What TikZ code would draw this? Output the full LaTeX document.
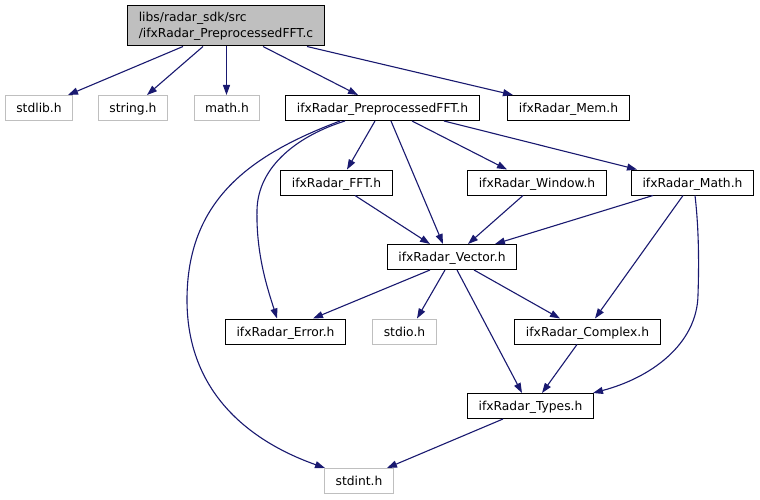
\documentclass[tikz,border=0pt]{standalone}
\usepackage{fontspec}
\setmainfont{DejaVu Sans}
\usetikzlibrary{arrows.meta}
\definecolor{edgeblue}{RGB}{25,25,112}
\definecolor{grayfill}{RGB}{191,191,191}
\definecolor{grayline}{RGB}{191,191,191}
\begin{document}
\begin{tikzpicture}[x=1pt,y=-1pt,
  box/.style={draw=black,line width=1pt,fill=white,inner xsep=11pt,inner ysep=0pt,
    minimum height=25pt,text height=9pt,text depth=0pt,font=\fontsize{12.3}{15}\selectfont},
  extbox/.style={box,draw=grayline},
  rootbox/.style={draw=black,line width=1pt,fill=grayfill,inner xsep=11pt,inner ysep=0pt,
    minimum height=40pt,align=left,font=\fontsize{12.3}{16}\selectfont},
  dep/.style={draw=edgeblue,line width=1.1pt,-{Triangle[length=10pt,width=7pt]}}]
\useasboundingbox[fill=white] (0,0) rectangle (760,500);

\node[rootbox] (root) at (226,26) {libs/radar\_sdk/src\\/ifxRadar\_PreprocessedFFT.c};
\node[extbox] (stdlib) at (39,108) {stdlib.h};
\node[extbox] (string) at (133,108) {string.h};
\node[extbox] (math) at (227,108) {math.h};
\node[box] (pre) at (382.5,108) {ifxRadar\_PreprocessedFFT.h};
\node[box] (mem) at (568.5,108) {ifxRadar\_Mem.h};
\node[box] (fft) at (336.5,182.5) {ifxRadar\_FFT.h};
\node[box] (win) at (537,182.5) {ifxRadar\_Window.h};
\node[box] (mth) at (692.5,182.5) {ifxRadar\_Math.h};
\node[box] (vec) at (452,257) {ifxRadar\_Vector.h};
\node[box] (err) at (285.5,331.5) {ifxRadar\_Error.h};
\node[extbox] (stdio) at (404.5,331.5) {stdio.h};
\node[box] (cpx) at (587.5,331.5) {ifxRadar\_Complex.h};
\node[box] (typ) at (530.5,406) {ifxRadar\_Types.h};
\node[extbox] (stdint) at (359,481) {stdint.h};

\draw[dep] ([xshift=-43pt]root.south) -- ([xshift=29pt]stdlib.north);
\draw[dep] ([xshift=-23pt]root.south) -- ([xshift=14pt]string.north);
\draw[dep] ([xshift=0.5pt]root.south) -- ([xshift=-0.5pt]math.north);
\draw[dep] ([xshift=37pt]root.south) -- ([xshift=-24.5pt]pre.north);
\draw[dep] ([xshift=81pt]root.south) -- ([xshift=-55.5pt]mem.north);

\draw[dep] ([xshift=-7.5pt]pre.south) -- ([xshift=10.5pt]fft.north);
\draw[dep] ([xshift=8.5pt]pre.south) -- ([xshift=-9pt]vec.north);
\draw[dep] ([xshift=29.5pt]pre.south) -- ([xshift=-30pt]win.north);
\draw[dep] ([xshift=61.5pt]pre.south) -- ([xshift=-55.5pt]mth.north);
\draw[dep] ([xshift=-37.5pt]pre.south) .. controls (300,135) and (258,165) .. (257,210)
  .. controls (256,255) and (268,290) .. ([xshift=-8.5pt]err.north);
\draw[dep] ([xshift=-42.5pt]pre.south) .. controls (250,155) and (187,200) .. (187,300)
  .. controls (187,400) and (260,445) .. ([xshift=-34pt]stdint.north);

\draw[dep] ([xshift=18.5pt]fft.south) -- ([xshift=-22pt]vec.north);
\draw[dep] ([xshift=-14pt]win.south) -- ([xshift=16pt]vec.north);
\draw[dep] ([xshift=-39.5pt]mth.south) -- ([xshift=43pt]vec.north);
\draw[dep] ([xshift=-9.5pt]mth.south) -- ([xshift=7.5pt]cpx.north);
\draw[dep] ([xshift=2.5pt]mth.south) .. controls (699,230) and (699,265) .. (698,295)
  .. controls (697,345) and (650,378) .. ([xshift=62.5pt]typ.north);

\draw[dep] ([xshift=-22pt]vec.south) -- ([xshift=27.5pt]err.north);
\draw[dep] ([xshift=-7pt]vec.south) -- ([xshift=12.5pt]stdio.north);
\draw[dep] ([xshift=5pt]vec.south) -- ([xshift=-8.5pt]typ.north);
\draw[dep] ([xshift=22pt]vec.south) -- ([xshift=-27.5pt]cpx.north);
\draw[dep] ([xshift=-10.5pt]cpx.south) -- ([xshift=11.5pt]typ.north);
\draw[dep] ([xshift=-27.5pt]typ.south) -- ([xshift=28pt]stdint.north);
\end{tikzpicture}
\end{document}
